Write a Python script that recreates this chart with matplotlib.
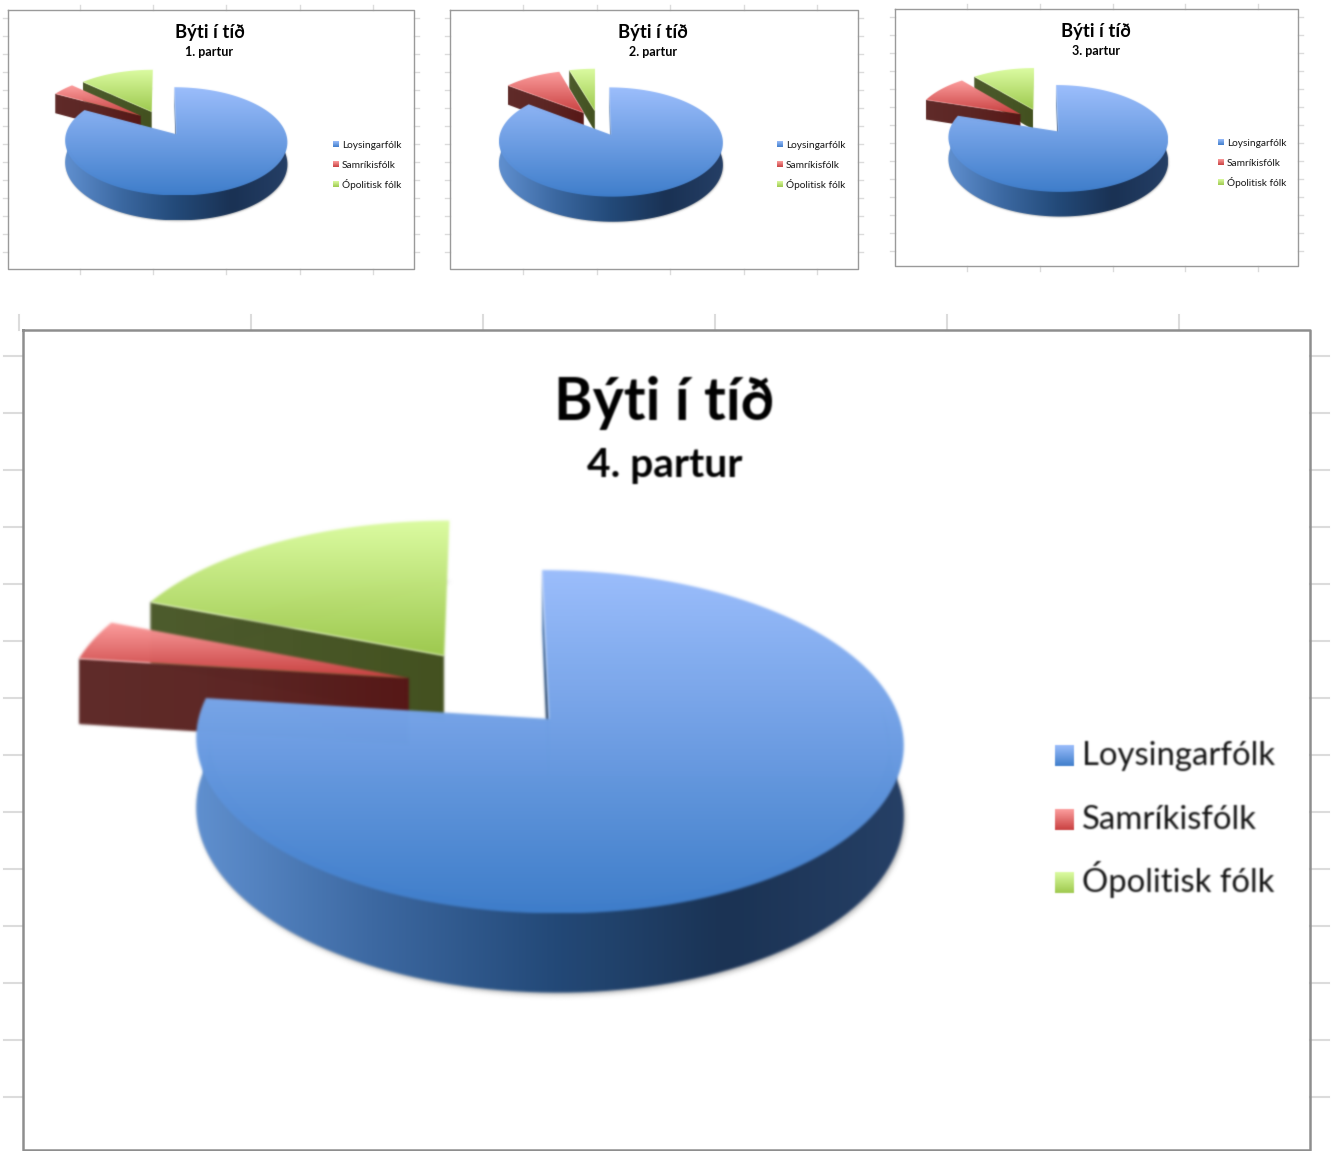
import numpy as np
import matplotlib
matplotlib.use("Agg")
import matplotlib.pyplot as plt
from matplotlib.colors import LinearSegmentedColormap
from matplotlib.patches import Polygon

plt.rcParams["font.family"] = ["Lato", "DejaVu Sans"]

# values, share of each group in percent
chart_title = "Býti í tíð"
parts = ["1. partur", "2. partur", "3. partur", "4. partur"]
groups = ["Loysingarfólk", "Samríkisfólk", "Ópolitisk fólk"]
loysingarfolk = [83, 85.5, 80, 77]
samrikisfolk = [4, 10, 9, 4]
opolitisk_folk = [13, 4.5, 11, 19]

W, H = 1336, 1151

# frame x0, y0, x1, y1 and pie centre x, y, scale of every chart
frames = [(8, 10, 414, 269), (450, 10, 858, 269), (895, 9, 1298, 266), (23, 330, 1310, 1150)]
pies = [(162, 123, 0.313), (598.5, 123, 0.315), (1042, 121, 0.31), (491, 688, 1.0)]

RX, RY, PERSP, DEPTH, EXPLODE = 342, 160.5, 0.13, 67, 0.25

top_colors = [("#9cbefc", "#3f7ecb"), ("#fd9f9f", "#c94040"), ("#dcfca2", "#9ec94e")]
wall_colors = [
    ["#6090d0", "#3c69a2", "#234a79", "#1a3254", "#253f66"],
    ["#602b29", "#5c2624", "#571817"],
    ["#4d5b2c", "#485627", "#43511f"],
]

z = [10]


def next_z():
    z[0] += 1
    return z[0]


def blur(sigma):
    # gaussian blur for agg_filter, the reference is a soft upscaled screenshot
    radius = int(3 * sigma) + 1
    kernel = np.exp(-0.5 * (np.arange(-radius, radius + 1) / sigma) ** 2)
    kernel /= kernel.sum()

    def apply(img, dpi):
        pad = radius + 1
        out = np.pad(img, ((pad, pad), (pad, pad), (0, 0)))
        out[..., :3] *= out[..., 3:]
        for axis in (0, 1):
            out = np.apply_along_axis(lambda m: np.convolve(m, kernel, mode="same"), axis, out)
        alpha = np.clip(out[..., 3:], 1e-4, 1)
        out[..., :3] = np.clip(out[..., :3] / alpha, 0, 1)
        return out, -pad, -pad

    return apply


def gradient_poly(ax, points, colors, vertical, sigma):
    x0, y0 = points.min(axis=0)
    x1, y1 = points.max(axis=0)
    cmap = LinearSegmentedColormap.from_list("g", colors)
    ramp = np.linspace(0, 1, 256)
    ramp = ramp[:, None] if vertical else ramp[None, :]
    im = ax.imshow(ramp, cmap=cmap, vmin=0, vmax=1, extent=(x0, x1, y1, y0),
                   aspect="auto", interpolation="bilinear", origin="upper", zorder=next_z())
    clip = Polygon(points, closed=True, transform=ax.transData, fc="none", ec="none")
    ax.add_patch(clip)
    im.set_clip_path(clip)
    im.set_agg_filter(blur(sigma))
    return im


def project(pie, u, v, lower=False):
    cx, cy, s = pie
    w = 1 + PERSP * v
    x = cx + s * RX * u / w
    y = cy - s * RY * v / w
    if lower:
        y = y + s * DEPTH / w
    return np.column_stack([x, y])


def draw_slice(ax, pie, start, end, index, sigma):
    mid = np.radians((start + end) / 2)
    ou, ov = EXPLODE * np.sin(mid), EXPLODE * np.cos(mid)
    theta = np.radians(np.linspace(start, end, 150))
    u = np.concatenate([[ou], ou + np.sin(theta)])
    v = np.concatenate([[ov], ov + np.cos(theta)])

    top = project(pie, u, v)
    low = project(pie, u, v, lower=True)

    # only the part of the rim that looks at the camera has a visible wall
    front = np.cos(theta) < 0.1

    # soft shadow just under the wall
    s = pie[2]
    rim_low = low[1:][front] if front.sum() > 1 else low[1:]
    shadow = rim_low + np.array([2 * s, 3 * s])
    sh = ax.fill(shadow[:, 0], shadow[:, 1], color="#808080", alpha=0.45, lw=0, zorder=next_z())[0]
    sh.set_agg_filter(blur(sigma * 1.8))

    if front.sum() > 1:
        # wall starts a bit inside the rim so the blurred top edge has no pale seam
        inner = project(pie, ou + 0.96 * np.sin(theta), ov + 0.96 * np.cos(theta))
        side = np.vstack([inner[front], low[1:][front][::-1]])
        gradient_poly(ax, side, wall_colors[index], False, sigma)

    # cut face on the side of the first edge
    face = np.vstack([top[0], top[1], low[1], low[0]])
    gradient_poly(ax, face, wall_colors[index], False, sigma)
    gradient_poly(ax, top, top_colors[index], True, sigma)


def draw_grid(ax, frame, step_x, step_y, first_x, first_y, reach, reach_top):
    x0, y0, x1, y1 = frame
    ys = np.arange(first_y, min(y1, H), step_y)
    xs = np.arange(first_x, x1, step_x)
    lw = 1.0 if step_y < 30 else 1.5
    for y in ys:
        ax.plot([x0 - reach, x0], [y, y], color="#dcdcdc", lw=lw, zorder=1)
        ax.plot([x1, x1 + reach], [y, y], color="#dcdcdc", lw=lw, zorder=1)
    for x in xs:
        ax.plot([x, x], [y0 - reach_top, y0], color="#dcdcdc", lw=lw, zorder=1)
        if y1 + reach_top < H:
            ax.plot([x, x], [y1, y1 + reach_top], color="#dcdcdc", lw=lw, zorder=1)


def draw_chart(ax, i):
    big = i == 3
    x0, y0, x1, y1 = frames[i]
    pie = pies[i]
    sigma = 1.3 if big else 0.55

    # frame
    ax.plot([x0, x1, x1, x0, x0], [y0, y0, y1, y1, y0], color="#9a9a9a" if not big else "#8e8e8e",
            lw=1.0 if not big else 1.8, zorder=2)

    values = [loysingarfolk[i], samrikisfolk[i], opolitisk_folk[i]]
    total = sum(values)
    edges = np.cumsum([0] + values) / total * 360
    # green at the back, then red, blue in front
    for idx in (2, 1, 0):
        draw_slice(ax, pie, edges[idx], edges[idx + 1], idx, sigma)

    if big:
        cx, title_y, sub_y = 664.5, 403, 465
        title_fs, sub_fs, leg_fs = 42.3, 29.3, 23.7
        box_x, box_w, box_h, text_x = 1055, 19, 21, 1082
        leg_y = [755, 819, 882]
        drop = 10
    else:
        cx = {0: 209.5, 1: 653, 2: 1096}[i]
        title_y, sub_y = y0 + 22.5, y0 + 42
        title_fs, sub_fs, leg_fs = 13.3, 9, 7.3
        box_x = {0: 333, 1: 777, 2: 1218}[i]
        box_w, box_h = 6, 6
        text_x = box_x + 9
        base = {0: 144, 1: 144, 2: 142}[i]
        leg_y = [base, base + 20, base + 40]
        drop = 3.7

    f = blur(0.9 if big else 0.32)
    ax.text(cx, title_y, chart_title, ha="center", va="center", fontsize=title_fs,
            fontweight="bold", color="black", agg_filter=f, zorder=next_z())
    ax.text(cx, sub_y, parts[i], ha="center", va="center", fontsize=sub_fs,
            fontweight="bold", color="black", agg_filter=f, zorder=next_z())
    for j, name in enumerate(groups):
        y = leg_y[j]
        square = np.array([[box_x, y - box_h / 2], [box_x + box_w, y - box_h / 2],
                           [box_x + box_w, y + box_h / 2], [box_x, y + box_h / 2]])
        gradient_poly(ax, square, top_colors[j], True, sigma * 0.5)
        ax.text(text_x, y + drop, name, ha="left", va="baseline", fontsize=leg_fs,
                color="#141414", agg_filter=f, zorder=next_z())


def main():
    fig = plt.figure(figsize=(W / 100, H / 100), dpi=100, facecolor="white")
    ax = fig.add_axes([0, 0, 1, 1])
    ax.set_axis_off()
    ax.set_autoscale_on(False)

    # spreadsheet cells peeking out around the charts
    draw_grid(ax, frames[0], 73.2, 18, 80, 18, 5, 5)
    draw_grid(ax, frames[1], 73.6, 18, 523, 18, 5, 5)
    draw_grid(ax, frames[2], 72.8, 18, 967, 17, 5, 5)
    draw_grid(ax, frames[3], 232, 57, 251, 356, 19, 15)
    ax.plot([19, 19], [315, 330], color="#dcdcdc", lw=1.5, zorder=1)

    for i in range(len(parts)):
        draw_chart(ax, i)

    ax.set_xlim(0, W)
    ax.set_ylim(H, 0)
    fig.savefig("out.png", dpi=100)


if __name__ == "__main__":
    main()
